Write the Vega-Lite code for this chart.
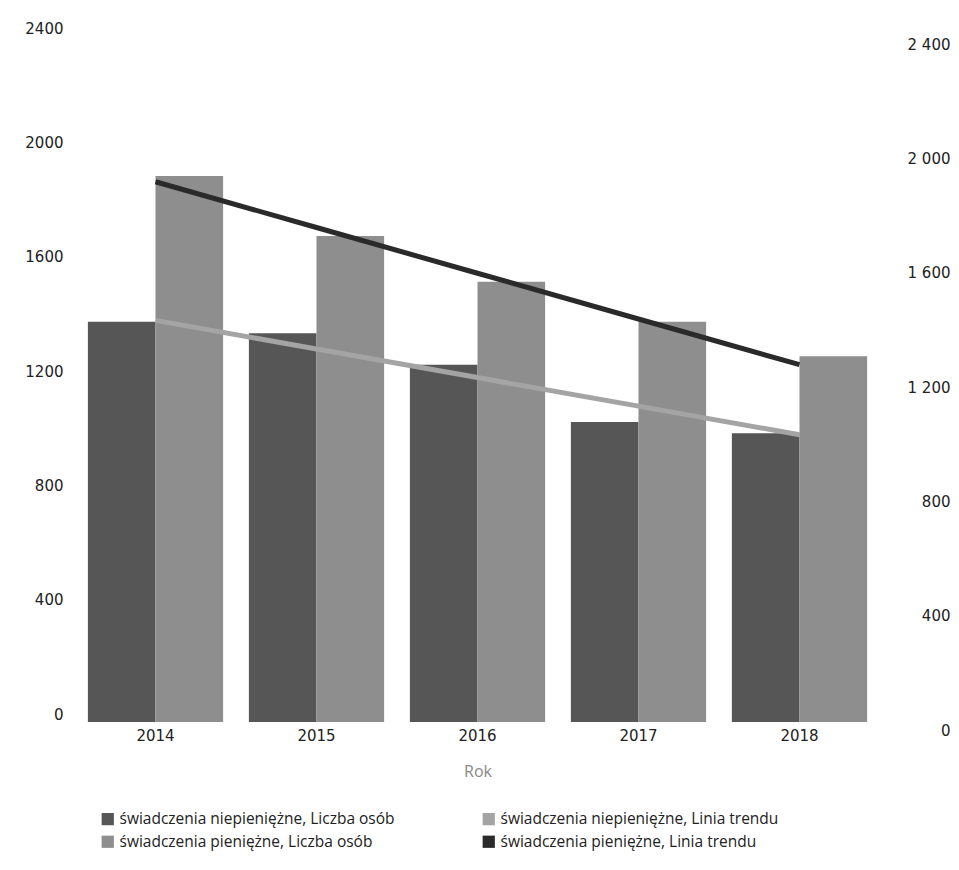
{
  "$schema": "https://vega.github.io/schema/vega-lite/v6.json",
  "width": 805,
  "height": 686,
  "autosize": {"type": "none"},
  "padding": {"left": 75, "top": 36, "right": 79, "bottom": 148},
  "background": "white",
  "config": {
    "view": {"stroke": null},
    "font": "Open Sans",
    "axis": {"labelFont": "DejaVu Sans", "labelFontSize": 15, "labelColor": "#222", "domain": false, "ticks": false, "grid": false}
  },
  "data": {
    "values": [
      {"year": "2014", "series": "świadczenia niepieniężne, Liczba osób", "kind": "bar", "value": 1400},
      {"year": "2015", "series": "świadczenia niepieniężne, Liczba osób", "kind": "bar", "value": 1360},
      {"year": "2016", "series": "świadczenia niepieniężne, Liczba osób", "kind": "bar", "value": 1250},
      {"year": "2017", "series": "świadczenia niepieniężne, Liczba osób", "kind": "bar", "value": 1050},
      {"year": "2018", "series": "świadczenia niepieniężne, Liczba osób", "kind": "bar", "value": 1010},
      {"year": "2014", "series": "świadczenia pieniężne, Liczba osób", "kind": "bar", "value": 1910},
      {"year": "2015", "series": "świadczenia pieniężne, Liczba osób", "kind": "bar", "value": 1700},
      {"year": "2016", "series": "świadczenia pieniężne, Liczba osób", "kind": "bar", "value": 1540},
      {"year": "2017", "series": "świadczenia pieniężne, Liczba osób", "kind": "bar", "value": 1400},
      {"year": "2018", "series": "świadczenia pieniężne, Liczba osób", "kind": "bar", "value": 1280},
      {"year": "2014", "series": "świadczenia niepieniężne, Linia trendu", "kind": "line", "value": 1405},
      {"year": "2015", "series": "świadczenia niepieniężne, Linia trendu", "kind": "line", "value": 1305},
      {"year": "2016", "series": "świadczenia niepieniężne, Linia trendu", "kind": "line", "value": 1205},
      {"year": "2017", "series": "świadczenia niepieniężne, Linia trendu", "kind": "line", "value": 1105},
      {"year": "2018", "series": "świadczenia niepieniężne, Linia trendu", "kind": "line", "value": 1005},
      {"year": "2014", "series": "świadczenia pieniężne, Linia trendu", "kind": "line", "value": 1890},
      {"year": "2015", "series": "świadczenia pieniężne, Linia trendu", "kind": "line", "value": 1730},
      {"year": "2016", "series": "świadczenia pieniężne, Linia trendu", "kind": "line", "value": 1570},
      {"year": "2017", "series": "świadczenia pieniężne, Linia trendu", "kind": "line", "value": 1410},
      {"year": "2018", "series": "świadczenia pieniężne, Linia trendu", "kind": "line", "value": 1250}
    ]
  },
  "encoding": {
    "x": {
      "field": "year", "type": "nominal",
      "scale": {"paddingInner": 0.16, "paddingOuter": 0.08},
      "axis": {"title": "Rok", "labelAngle": 0, "labelPadding": 6, "titleFont": "Open Sans", "titleFontSize": 16, "titleFontWeight": "normal", "titleColor": "#888", "titlePadding": 20}
    },
    "color": {
      "field": "series", "type": "nominal",
      "scale": {
        "domain": ["świadczenia niepieniężne, Liczba osób", "świadczenia niepieniężne, Linia trendu", "świadczenia pieniężne, Liczba osób", "świadczenia pieniężne, Linia trendu"],
        "range": ["#565656", "#a4a4a4", "#8e8e8e", "#2a2a2a"]
      },
      "legend": {
        "title": null, "orient": "none", "legendX": 25, "legendY": 775, "direction": "horizontal", "columns": 2,
        "symbolType": "square", "symbolSize": 150, "symbolStrokeWidth": 0, "labelFont": "Open Sans", "labelFontSize": 15.5, "labelColor": "#222",
        "columnPadding": 86, "rowPadding": 6, "labelLimit": 400
      }
    }
  },
  "layer": [
    {
      "transform": [{"filter": "datum.kind === 'bar'"}],
      "mark": {"type": "bar"},
      "encoding": {
        "xOffset": {"field": "series", "type": "nominal", "scale": {"paddingInner": 0, "domain": ["świadczenia niepieniężne, Liczba osób", "świadczenia pieniężne, Liczba osób"]}},
        "y": {
          "field": "value", "type": "quantitative",
          "scale": {"domain": [0, 2400], "nice": false},
          "axis": {"title": null, "values": [0, 400, 800, 1200, 1600, 2000, 2400], "format": "d", "labelPadding": 12, "labelOffset": -8}
        }
      }
    },
    {
      "transform": [{"filter": "datum.kind === 'line'"}],
      "mark": {"type": "line", "strokeWidth": 5},
      "encoding": {
        "y": {
          "field": "value", "type": "quantitative",
          "scale": {"domain": [0, 2400], "nice": false},
          "axis": {"title": null, "orient": "right", "values": [0, 400, 800, 1200, 1600, 2000, 2400], "labelExpr": "replace(format(datum.value, ',d'), ',', ' ')", "labelAlign": "right", "labelPadding": 70, "labelOffset": 8}
        }
      }
    }
  ],
  "resolve": {"scale": {"y": "independent"}}
}
